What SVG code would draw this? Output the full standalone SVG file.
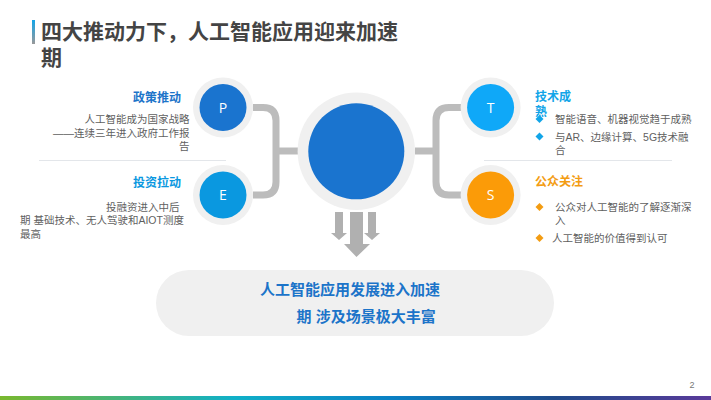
<svg xmlns="http://www.w3.org/2000/svg" width="711" height="400" viewBox="0 0 711 400">
<style>
text{font-family:"Liberation Sans","Noto Sans CJK SC",sans-serif}
.ttl{font-size:21px;font-weight:700;fill:#444}
.hd{font-size:12px;font-weight:700}
.b{font-size:10.500px;fill:#5f5f5f}
.e{text-anchor:end}
.ltr{font-family:"Open Sans","Liberation Sans",sans-serif;font-size:14px;fill:#fff;text-anchor:middle}
.ring{fill:#f0f0f0}
.con{fill:none;stroke:#bcbcbc;stroke-width:7}
.ar{fill:#b0b0b0}
.dv{stroke:#e3e6ea;stroke-width:1}
.pl{font-size:15px;font-weight:700;fill:#1c74c9}
</style>
<defs>
<linearGradient id="acc" x1="0" y1="0" x2="0" y2="1"><stop offset="0" stop-color="#12a5e8"/><stop offset="1" stop-color="#999"/></linearGradient>
<linearGradient id="foot" x1="0" y1="0" x2="1" y2="0"><stop offset="0" stop-color="#7ab82e"/><stop offset=".33" stop-color="#10b0c8"/><stop offset=".55" stop-color="#0a80c4"/><stop offset=".78" stop-color="#1f4a8a"/><stop offset="1" stop-color="#5a3a9a"/></linearGradient>
</defs>
<rect width="711" height="400" fill="#fff"/>
<g id="title">
<rect x="32" y="20" width="3" height="24" fill="url(#acc)"/>
<text class="ttl" x="41" y="39">四大推动力下，人工智能应用迎来加速</text>
<text class="ttl" x="41" y="65">期</text>
</g>
<g id="connectors">
<path class="con" d="M253,107.500H263Q276,107.500 276,120.500V182Q276,195 263,195H253"/>
<path class="con" d="M276,151H298"/>
<path class="con" d="M461,107.500H449Q436,107.500 436,120.500V182Q436,195 449,195H461"/>
<path class="con" d="M415,151H436"/>
<path class="ar" d="M335,212H343V233H347L339,240L331,233H335Z"/>
<path class="ar" d="M368,212H376V233H380L372,240L364,233H368Z"/>
<path class="ar" d="M350,212H363V244H370L356.500,257L344,244H350Z"/>
</g>
<g id="center"><circle class="ring" cx="356.300" cy="151.300" r="58.700"/><circle cx="356.300" cy="151.300" r="48" fill="#1a74cf"/></g>
<g id="node-p"><circle class="ring" cx="223" cy="107.500" r="30"/><circle cx="223" cy="107.500" r="23.500" fill="#1a74cf"/><text class="ltr" x="223" y="112.500">P</text></g>
<g id="node-e"><circle class="ring" cx="223" cy="195" r="30"/><circle cx="223" cy="195" r="23.500" fill="#0a98e0"/><text class="ltr" x="223" y="200">E</text></g>
<g id="node-t"><circle class="ring" cx="490.600" cy="107.500" r="30"/><circle cx="490.600" cy="107.500" r="23.500" fill="#0fa8f8"/><text class="ltr" x="490.600" y="112.500">T</text></g>
<g id="node-s"><circle class="ring" cx="490.600" cy="195" r="30"/><circle cx="490.600" cy="195" r="23.500" fill="#fb9b08"/><text class="ltr" x="490.600" y="200">S</text></g>
<g id="left-text">
<text class="hd" x="133" y="102" fill="#1c74c9">政策推动</text>
<text class="b e" x="189.500" y="123">人工智能成为国家战略</text>
<text class="b e" x="189.500" y="136.500">——连续三年进入政府工作报</text>
<text class="b e" x="189.500" y="150">告</text>
<line class="dv" x1="39" y1="160.500" x2="226" y2="160.500"/>
<text class="hd" x="133" y="187" fill="#0a98e0">投资拉动</text>
<text class="b" x="106" y="211">投融资进入中后</text>
<text class="b" x="20" y="224">期 基础技术、无人驾驶和AIOT测度</text>
<text class="b" x="20" y="238">最高</text>
</g>
<g id="right-text">
<text class="hd" x="535" y="101" fill="#12a5e8">技术成</text>
<text class="hd" x="535" y="116" fill="#12a5e8">熟</text>
<path fill="#12a5e8" d="M539.500,115L543.500,119L539.500,123L535.500,119Z"/>
<text class="b" x="555" y="123">智能语音、机器视觉趋于成熟</text>
<path fill="#12a5e8" d="M539.500,132.500L543.500,136.500L539.500,140.500L535.500,136.500Z"/>
<text class="b" x="555" y="141">与AR、边缘计算、5G技术融</text>
<text class="b" x="555" y="153.500">合</text>
<line class="dv" x1="484" y1="160.500" x2="672" y2="160.500"/>
<text class="hd" x="535" y="186" fill="#f39c12">公众关注</text>
<path fill="#f39c12" d="M539.500,203L543.500,207L539.500,211L535.500,207Z"/>
<text class="b" x="555" y="211">公众对人工智能的了解逐渐深</text>
<text class="b" x="555" y="224">入</text>
<path fill="#f39c12" d="M539.500,234L543.500,238L539.500,242L535.500,238Z"/>
<text class="b" x="552" y="242">人工智能的价值得到认可</text>
</g>
<g id="summary">
<rect x="156" y="270" width="398" height="66" rx="33" fill="#f0f0f0"/>
<text class="pl" x="260" y="295">人工智能应用发展进入加速</text>
<text class="pl" x="296.500" y="322">期 涉及场景极大丰富</text>
</g>
<g id="footer">
<text x="689.500" y="388" font-size="9" fill="#777">2</text>
<rect y="396" width="711" height="4" fill="url(#foot)"/>
</g>
</svg>
